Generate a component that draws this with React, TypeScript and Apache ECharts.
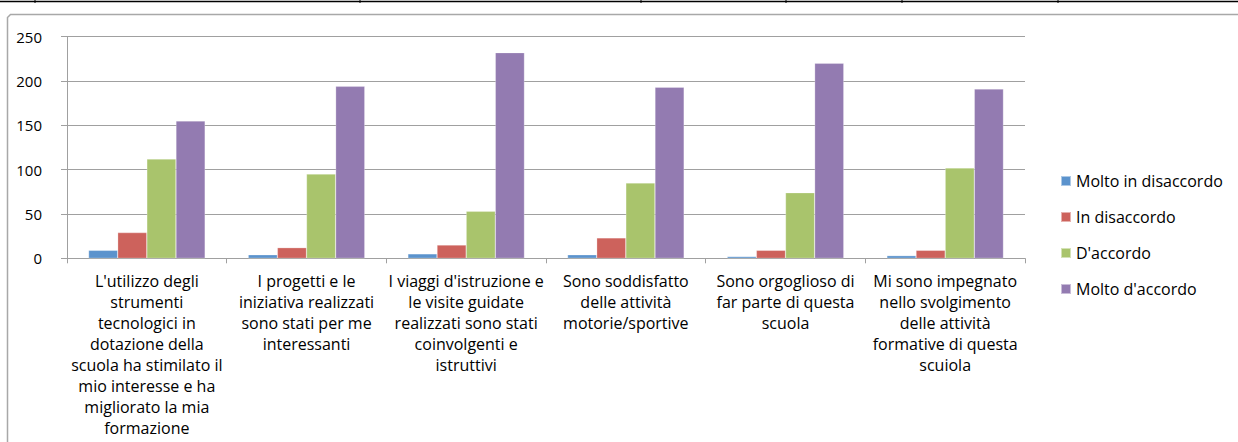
import React, { useEffect, useRef } from "react";
import * as echarts from "echarts";

const categories: string[] = [
  "L'utilizzo degli\nstrumenti\ntecnologici in\ndotazione della\nscuola ha stimilato il\nmio interesse e ha\nmigliorato la mia\nformazione",
  "I progetti e le\niniziativa realizzati\nsono stati per me\ninteressanti",
  "I viaggi d'istruzione e\nle visite guidate\nrealizzati sono stati\ncoinvolgenti e\nistruttivi",
  "Sono soddisfatto\ndelle attività\nmotorie/sportive",
  "Sono orgoglioso di\nfar parte di questa\nscuola",
  "Mi sono impegnato\nnello svolgimento\ndelle attività\nformative di questa\nscuiola",
];

const seriesNames: string[] = ["Molto in disaccordo", "In disaccordo", "D'accordo", "Molto d'accordo"];
const moltoInDisaccordo: number[] = [9, 4, 5, 4, 2, 3];
const inDisaccordo: number[] = [29, 12, 15, 23, 9, 9];
const dAccordo: number[] = [112, 95, 53, 85, 74, 102];
const moltoDAccordo: number[] = [155, 194, 232, 193, 220, 191];
const yTicks: number[] = [0, 50, 100, 150, 200, 250];

const colors = ["#5b93cd", "#cd625c", "#a9c46c", "#937bb1"];
const FONT = "'Open Sans', 'Noto Sans', sans-serif";

export default function App() {
  const ref = useRef<HTMLDivElement>(null);
  useEffect(() => {
    if (!ref.current) return;
    const chart = echarts.init(ref.current, undefined, { renderer: "svg" });
    const values = [moltoInDisaccordo, inDisaccordo, dAccordo, moltoDAccordo];
    const topTicks = [35, 360, 641, 786, 902, 1058];
    chart.setOption({
      animation: false,
      backgroundColor: "#ffffff",
      textStyle: { fontFamily: FONT },
      graphic: [
        {
          type: "polyline",
          silent: true,
          shape: { points: [[7.5, 442], [7.5, 17.5], [10.5, 14.5], [1238, 14.5]] },
          style: { fill: "none", stroke: "#a8a8a8", lineWidth: 1.5 },
        },
        {
          type: "line",
          silent: true,
          shape: { x1: 0, y1: 1.5, x2: 1238, y2: 1.5 },
          style: { stroke: "#000", lineWidth: 1.5 },
        },
        ...topTicks.map((x) => ({
          type: "line",
          silent: true,
          shape: { x1: x, y1: 0, x2: x, y2: 3 },
          style: { stroke: "#000", lineWidth: 1 },
        })),
      ],
      grid: { left: 67, right: 213, top: 36.7, bottom: 183.7, containLabel: false },
      legend: {
        orient: "vertical",
        left: 1060,
        top: 173,
        padding: 0,
        itemWidth: 10,
        itemHeight: 10,
        itemGap: 20,
        icon: "rect",
        data: seriesNames,
        textStyle: { fontFamily: FONT, fontSize: 16, color: "#000", lineHeight: 15 },
      },
      xAxis: {
        type: "category",
        data: categories,
        axisLine: { lineStyle: { color: "#a0a0a0", width: 1 } },
        axisTick: { show: true, interval: 0, length: 5, lineStyle: { color: "#a0a0a0" } },
        axisLabel: {
          interval: 0,
          color: "#000",
          fontFamily: FONT,
          fontSize: 16,
          lineHeight: 21,
          margin: 12,
          align: "center",
        },
      },
      yAxis: {
        type: "value",
        min: yTicks[0],
        max: yTicks[yTicks.length - 1],
        interval: 50,
        axisLine: { show: true, lineStyle: { color: "#a0a0a0", width: 1 } },
        axisTick: { show: true, length: 6, lineStyle: { color: "#a0a0a0" } },
        splitLine: { show: true, lineStyle: { color: "#a0a0a0", width: 1 } },
        axisLabel: { color: "#000", fontFamily: FONT, fontSize: 15, margin: 25 },
      },
      series: seriesNames.map((name, i) => ({
        name,
        type: "bar",
        data: values[i],
        barGap: "0%",
        barCategoryGap: "27%",
        itemStyle: { color: colors[i], borderColor: "rgba(255,255,255,0.5)", borderWidth: 0.5 },
      })),
    });
    return () => chart.dispose();
  }, []);
  return (
    <div
      ref={ref}
      style={{ position: "fixed", left: 0, top: 0, width: 1238, height: 442 }}
    />
  );
}
